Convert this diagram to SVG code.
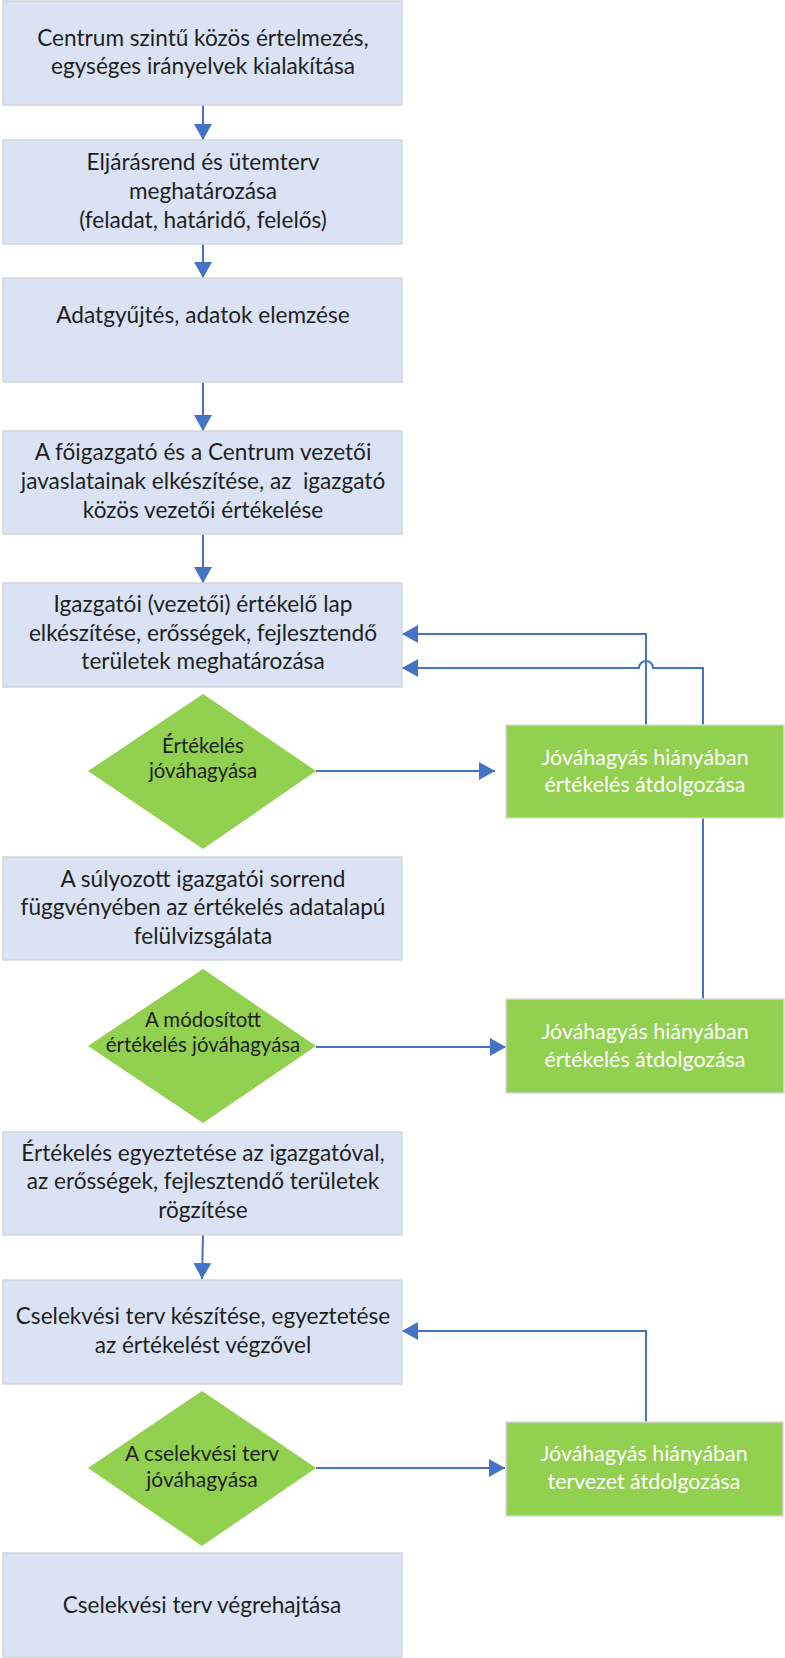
<svg xmlns="http://www.w3.org/2000/svg" width="785" height="1658" viewBox="0 0 785 1658">
<style>
.box{fill:#DAE3F3;stroke:#D3D6DB;stroke-width:1.5}
.g{fill:#92D050;stroke:#D9D9D9;stroke-width:1.5}
.d{fill:#92D050;stroke:none}
.t{font-family:Lato,"Liberation Sans",sans-serif;font-size:22.6px;fill:#1f1f1f;text-anchor:middle}
.ts{font-family:Lato,"Liberation Sans",sans-serif;font-size:20.4px;fill:#1f1f1f;text-anchor:middle}
.td{font-family:Lato,"Liberation Sans",sans-serif;font-size:21px;fill:#1f1f1f;text-anchor:middle}
.tw{font-family:Lato,"Liberation Sans",sans-serif;font-size:21.4px;fill:#ffffff;text-anchor:middle}
.c{fill:none;stroke:#4472C4;stroke-width:2;marker-end:url(#ah)}
</style>
<defs>
<marker id="ah" markerUnits="userSpaceOnUse" markerWidth="17" markerHeight="18" refX="16" refY="9" orient="auto">
<path d="M0,0 L16,9 L0,18 z" fill="#4472C4"/>
</marker>
</defs>
<rect width="785" height="1658" fill="#ffffff"/>
<g id="connectors">
<path class="c" d="M203,105 L203,140"/>
<path class="c" d="M203,244 L203,278"/>
<path class="c" d="M203,382 L203,431"/>
<path class="c" d="M203,534 L203,583"/>
<path class="c" d="M316,771 L495,771"/>
<path class="c" d="M646,725 L646,634 L402,634"/>
<path class="c" d="M703,999 L703,668 L653,668 A7,7 0 0,0 639,668 L402,668"/>
<path class="c" d="M316,1047 L506,1047"/>
<path class="c" d="M203,1235 L202,1279"/>
<path class="c" d="M316,1468 L505,1468"/>
<path class="c" d="M646,1422 L646,1331 L402,1331"/>
</g>
<g id="n1"><rect class="box" x="3" y="1" width="399" height="104"/>
<text class="t" x="203" y="46">Centrum szintű közös értelmezés,</text>
<text class="t" x="203" y="74">egységes irányelvek kialakítása</text></g>
<g id="n2"><rect class="box" x="3" y="140" width="399" height="104"/>
<text class="t" x="203" y="170">Eljárásrend és ütemterv</text>
<text class="t" x="203" y="199">meghatározása</text>
<text class="t" x="203" y="228">(feladat, határidő, felelős)</text></g>
<g id="n3"><rect class="box" x="3" y="278" width="399" height="104"/>
<text class="t" x="203" y="323">Adatgyűjtés, adatok elemzése</text></g>
<g id="n4"><rect class="box" x="3" y="431" width="399" height="103"/>
<text class="t" x="203" y="460">A főigazgató és a Centrum vezetői</text>
<text class="t" x="203" y="489" xml:space="preserve">javaslatainak elkészítése, az  igazgató</text>
<text class="t" x="203" y="518">közös vezetői értékelése</text></g>
<g id="n5"><rect class="box" x="3" y="583" width="399" height="104"/>
<text class="t" x="203" y="612">Igazgatói (vezetői) értékelő lap</text>
<text class="t" x="203" y="641">elkészítése, erősségek, fejlesztendő</text>
<text class="t" x="203" y="669">területek meghatározása</text></g>
<g id="d1"><polygon class="d" points="203,694 316,771 203,849 88,771"/>
<text class="ts" x="203" y="753">Értékelés</text>
<text class="ts" x="203" y="778">jóváhagyása</text></g>
<g id="g1"><rect class="g" x="506" y="725" width="278" height="93"/>
<text class="tw" x="645" y="765">Jóváhagyás hiányában</text>
<text class="tw" x="645" y="792">értékelés átdolgozása</text></g>
<g id="n6"><rect class="box" x="3" y="857" width="399" height="103"/>
<text class="t" x="203" y="887">A súlyozott igazgatói sorrend</text>
<text class="t" x="203" y="915">függvényében az értékelés adatalapú</text>
<text class="t" x="203" y="944">felülvizsgálata</text></g>
<g id="d2"><polygon class="d" points="203,969 316,1046 203,1123 88,1046"/>
<text class="ts" x="203" y="1027">A módosított</text>
<text class="ts" x="203" y="1052">értékelés jóváhagyása</text></g>
<g id="g2"><rect class="g" x="506" y="999" width="278" height="94"/>
<text class="tw" x="645" y="1039">Jóváhagyás hiányában</text>
<text class="tw" x="645" y="1067">értékelés átdolgozása</text></g>
<g id="n7"><rect class="box" x="3" y="1132" width="399" height="103"/>
<text class="t" x="203" y="1161">Értékelés egyeztetése az igazgatóval,</text>
<text class="t" x="203" y="1189">az erősségek, fejlesztendő területek</text>
<text class="t" x="203" y="1218">rögzítése</text></g>
<g id="n8"><rect class="box" x="3" y="1280" width="399" height="104"/>
<text class="t" x="203" y="1324">Cselekvési terv készítése, egyeztetése</text>
<text class="t" x="203" y="1353">az értékelést végzővel</text></g>
<g id="d3"><polygon class="d" points="202,1391 316,1468 202,1546 88,1468"/>
<text class="td" x="202" y="1461">A cselekvési terv</text>
<text class="td" x="202" y="1487">jóváhagyása</text></g>
<g id="g3"><rect class="g" x="506" y="1422" width="277" height="94"/>
<text class="tw" x="644" y="1461">Jóváhagyás hiányában</text>
<text class="tw" x="644" y="1489">tervezet átdolgozása</text></g>
<g id="n9"><rect class="box" x="3" y="1553" width="399" height="104"/>
<text class="t" x="202" y="1613">Cselekvési terv végrehajtása</text></g>
</svg>
